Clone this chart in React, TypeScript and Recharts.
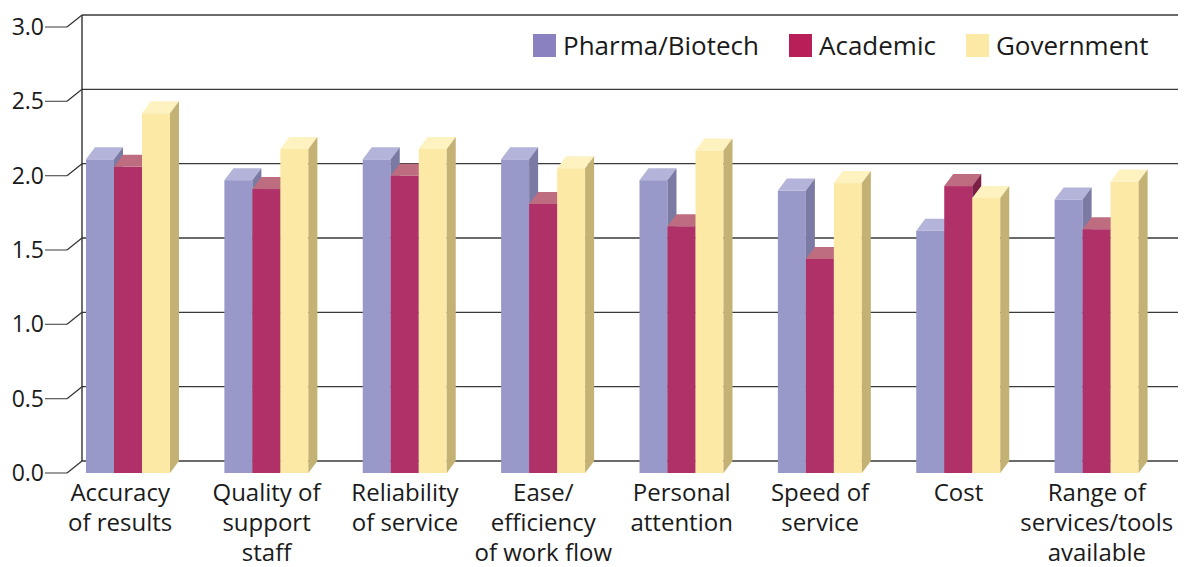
import { Bar, BarChart, CartesianGrid, Legend, XAxis, YAxis } from "recharts";

// values (front face of each box)
const categories = [
  "Accuracy of results",
  "Quality of support staff",
  "Reliability of service",
  "Ease/efficiency of work flow",
  "Personal attention",
  "Speed of service",
  "Cost",
  "Range of services/tools available",
];
const tickLabels = [
  ["Accuracy", "of results"],
  ["Quality of", "support", "staff"],
  ["Reliability", "of service"],
  ["Ease/", "efficiency", "of work flow"],
  ["Personal", "attention"],
  ["Speed of", "service"],
  ["Cost"],
  ["Range of", "services/tools", "available"],
];
const pharma = [2.11, 1.97, 2.11, 2.11, 1.97, 1.9, 1.63, 1.84];
const academic = [2.06, 1.91, 2.0, 1.81, 1.66, 1.44, 1.93, 1.64];
const government = [2.42, 2.18, 2.18, 2.05, 2.17, 1.95, 1.85, 1.96];
const yTicks = [0, 0.5, 1, 1.5, 2, 2.5, 3];

const data = categories.map((name, i) => ({
  name,
  pharma: pharma[i],
  academic: academic[i],
  government: government[i],
}));

const series = [
  { key: "pharma", name: "Pharma/Biotech", front: "#9898c9", top: "#b4b4da", side: "#7a7aa5", legend: "#8a82c0" },
  { key: "academic", name: "Academic", front: "#b03068", top: "#be6c80", side: "#7d1e46", legend: "#b81e57" },
  { key: "government", name: "Government", front: "#fde9a6", top: "#fef2c0", side: "#c4b274", legend: "#fde9a6" },
];

const FONT = '"Open Sans", sans-serif';
const PLOT_LEFT = 59;
const BOX_DX = 9; // bar depth
const BOX_DY = 12;
const BACK_DX = 23; // back wall offset from plot left
const BACK_DY = 12;

const makeBox = (front: string, top: string, side: string) => (props: any) => {
  const { x, y, width: w, height: h } = props;
  if (w == null || h == null || isNaN(y)) return <g />;
  return (
    <g>
      <rect x={x} y={y} width={w} height={h} fill={front} />
      <polygon
        points={`${x},${y} ${x + BOX_DX},${y - BOX_DY} ${x + w + BOX_DX},${y - BOX_DY} ${x + w},${y}`}
        fill={top}
      />
      <polygon
        points={`${x + w},${y} ${x + w + BOX_DX},${y - BOX_DY} ${x + w + BOX_DX},${y + h - BOX_DY} ${x + w},${y + h}`}
        fill={side}
      />
    </g>
  );
};

const BackLine = (p: any) => {
  const y = p.y1 - BACK_DY;
  return (
    <line
      key={`g-${p.index}`}
      x1={p.x1 + BACK_DX}
      x2={p.x2 + 12}
      y1={y}
      y2={y}
      stroke="#3a3a3a"
      strokeWidth={1.3}
    />
  );
};

const YTick = (props: any) => {
  const { y, payload } = props;
  const fx = PLOT_LEFT + 8;
  return (
    <g>
      <text x={44} y={y} dy={8} textAnchor="end" fontFamily={FONT} fontSize={23} fill="#1a1a1a">
        {Number(payload.value).toFixed(1)}
      </text>
      <line x1={45} y1={y} x2={fx} y2={y} stroke="#666" strokeWidth={1.3} />
      <line x1={fx} y1={y} x2={PLOT_LEFT + BACK_DX} y2={y - BACK_DY} stroke="#333" strokeWidth={1.2} />
    </g>
  );
};

const XTick = (props: any) => {
  const { x, y, index } = props;
  const lines = tickLabels[index] || [];
  const cx = index === 0 ? x - 8 : x;
  return (
    <text x={cx} y={y} textAnchor="middle" fontFamily={FONT} fontSize={24} fill="#1a1a1a">
      {lines.map((l, i) => (
        <tspan key={i} x={cx} dy={i === 0 ? 28 : 30}>
          {l}
        </tspan>
      ))}
    </text>
  );
};

const LegendBox = () => (
  <div style={{ display: "flex", alignItems: "center", fontFamily: FONT, fontSize: 26, color: "#1a1a1a" }}>
    {series.map((s) => (
      <div key={s.key} style={{ display: "flex", alignItems: "center", marginRight: 30 }}>
        <span style={{ display: "inline-block", width: 23, height: 23, background: s.legend, marginRight: 7 }} />
        {s.name}
      </div>
    ))}
  </div>
);

export default function App() {
  return (
    <div style={{ position: "absolute", left: 0, top: 0, background: "#fff" }}>
      <BarChart
        width={1186}
        height={567}
        data={data}
        margin={{ top: 27, right: 20, bottom: 0, left: 0 }}
        barGap={0}
        barSize={28}
      >
        <CartesianGrid vertical={false} horizontal={BackLine} />
        <XAxis
          dataKey="name"
          height={94}
          axisLine={false}
          tickLine={false}
          tickSize={0}
          tickMargin={0}
          interval={0}
          tick={<XTick />}
        />
        <YAxis
          width={PLOT_LEFT}
          domain={[0, 3]}
          ticks={yTicks}
          tickLine={false}
          axisLine={{ stroke: "#222", strokeWidth: 1.3, transform: `translate(${BACK_DX},${-BACK_DY})` }}
          tick={<YTick />}
        />
        <Legend
          layout="horizontal"
          verticalAlign="middle"
          content={<LegendBox />}
          wrapperStyle={{ top: 27, left: 533, width: "auto" }}
        />
        {series.map((s) => (
          <Bar
            key={s.key}
            dataKey={s.key}
            name={s.name}
            fill={s.front}
            isAnimationActive={false}
            shape={makeBox(s.front, s.top, s.side)}
          />
        ))}
      </BarChart>
    </div>
  );
}
